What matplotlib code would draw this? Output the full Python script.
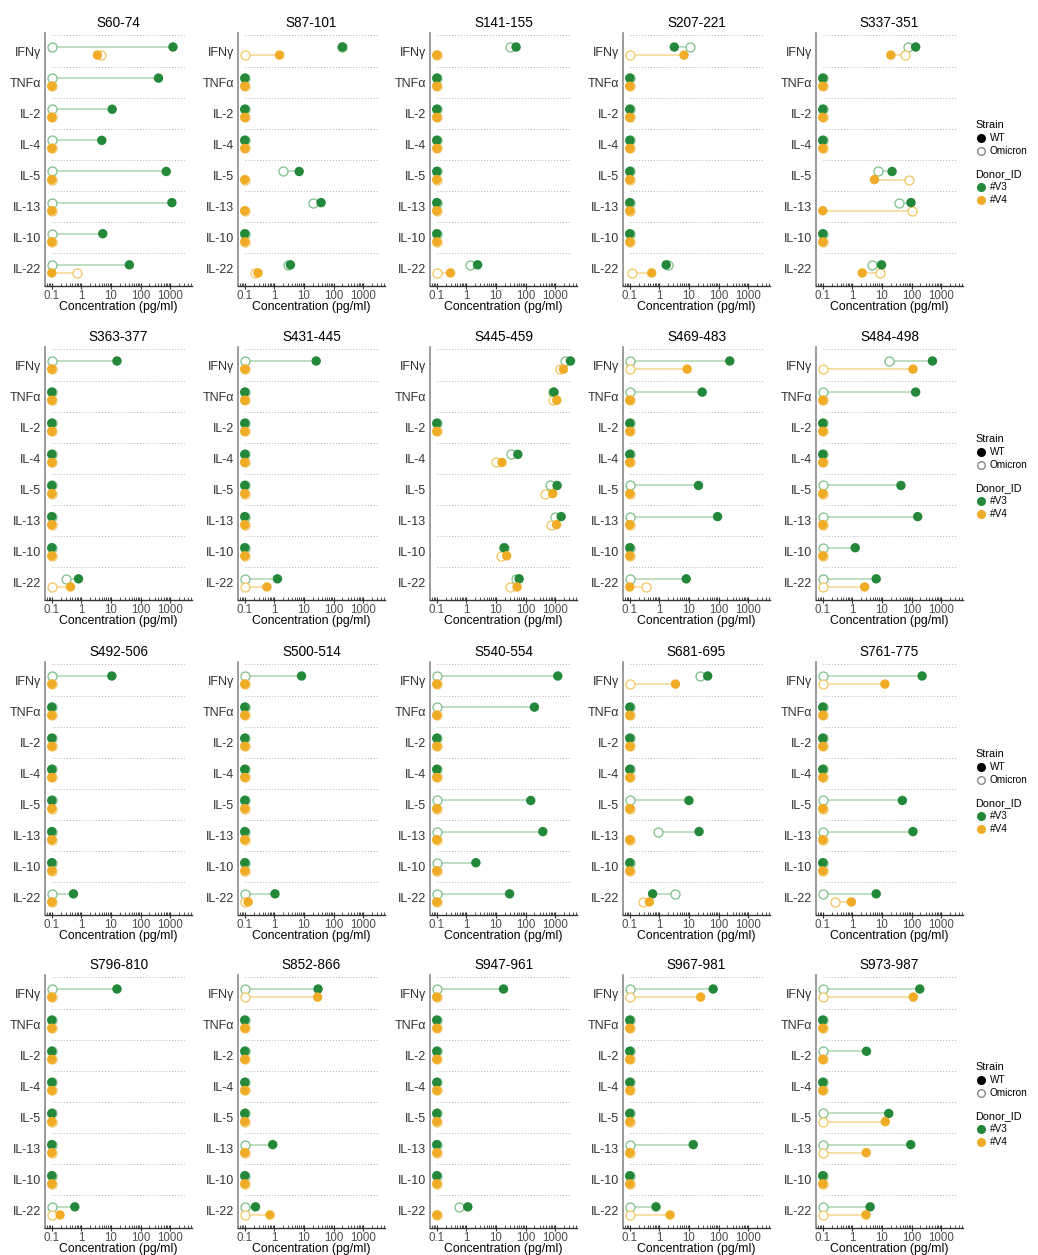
import matplotlib
matplotlib.use("Agg")
import matplotlib.pyplot as plt
import matplotlib.ticker as mticker
from matplotlib.lines import Line2D
import numpy as np

plt.rcParams['font.family'] = ['Liberation Sans', 'DejaVu Sans']

peptides = ["S60-74", "S87-101", "S141-155", "S207-221", "S337-351",
            "S363-377", "S431-445", "S445-459", "S469-483", "S484-498",
            "S492-506", "S500-514", "S540-554", "S681-695", "S761-775",
            "S796-810", "S852-866", "S947-961", "S967-981", "S973-987"]
cytokines = ["IFNγ", "TNFα", "IL-2", "IL-4", "IL-5", "IL-13", "IL-10", "IL-22"]
donors = ["#V3", "#V4"]
strains = ["WT", "Omicron"]

# values in pg/ml, order of cytokines
wt_v3 = [
    [1250, 405, 11, 4.9, 740, 1150, 5.3, 42],
    [200, 0.1, 0.1, 0.1, 6.9, 38, 0.1, 3.5],
    [48, 0.1, 0.1, 0.1, 0.1, 0.1, 0.1, 2.4],
    [3.2, 0.1, 0.1, 0.1, 0.1, 0.1, 0.1, 1.7],
    [138, 0.1, 0.1, 0.1, 22, 96, 0.1, 9.7],
    [16, 0.1, 0.1, 0.1, 0.1, 0.1, 0.1, 0.80],
    [26, 0.1, 0.1, 0.1, 0.1, 0.1, 0.1, 1.27],
    [3300, 910, 0.1, 55, 1170, 1600, 19, 61],
    [240, 28, 0.1, 0.1, 21, 93, 0.1, 8.1],
    [510, 138, 0.1, 0.1, 44, 162, 1.25, 6.4],
    [10.7, 0.1, 0.1, 0.1, 0.1, 0.1, 0.1, 0.54],
    [8.3, 0.1, 0.1, 0.1, 0.1, 0.1, 0.1, 1.05],
    [1230, 200, 0.1, 0.1, 150, 385, 2.1, 29],
    [43, 0.1, 0.1, 0.1, 10, 22, 0.1, 0.59],
    [228, 0.1, 0.1, 0.1, 49, 112, 0.1, 6.4],
    [16, 0.1, 0.1, 0.1, 0.1, 0.1, 0.1, 0.60],
    [30, 0.1, 0.1, 0.1, 0.1, 0.88, 0.1, 0.23],
    [18, 0.1, 0.1, 0.1, 0.1, 0.1, 0.1, 1.12],
    [66, 0.1, 0.1, 0.1, 0.1, 14, 0.1, 0.77],
    [190, 0.1, 3.0, 0.1, 17, 94, 0.1, 4.0],
]
omi_v3 = [
    [0.1, 0.1, 0.1, 0.1, 0.1, 0.1, 0.1, 0.1],
    [200, 0.1, 0.1, 0.1, 2.0, 21, 0.1, 2.8],
    [29, 0.1, 0.1, 0.1, 0.1, 0.1, 0.1, 1.38],
    [10.5, 0.1, 0.1, 0.1, 0.1, 0.1, 0.1, 2.0],
    [74, 0.1, 0.1, 0.1, 7.3, 37, 0.1, 4.5],
    [0.1, 0.1, 0.1, 0.1, 0.1, 0.1, 0.1, 0.31],
    [0.1, 0.1, 0.1, 0.1, 0.1, 0.1, 0.1, 0.1],
    [2240, 820, 0.1, 33, 650, 980, 19, 49],
    [0.1, 0.1, 0.1, 0.1, 0.1, 0.1, 0.1, 0.1],
    [17, 0.1, 0.1, 0.1, 0.1, 0.1, 0.1, 0.1],
    [0.1, 0.1, 0.1, 0.1, 0.1, 0.1, 0.1, 0.1],
    [0.1, 0.1, 0.1, 0.1, 0.1, 0.1, 0.1, 0.1],
    [0.1, 0.1, 0.1, 0.1, 0.1, 0.1, 0.1, 0.1],
    [24, 0.1, 0.1, 0.1, 0.1, 0.9, 0.1, 3.5],
    [0.1, 0.1, 0.1, 0.1, 0.1, 0.1, 0.1, 0.1],
    [0.1, 0.1, 0.1, 0.1, 0.1, 0.1, 0.1, 0.1],
    [0.1, 0.1, 0.1, 0.1, 0.1, 0.1, 0.1, 0.1],
    [0.1, 0.1, 0.1, 0.1, 0.1, 0.1, 0.1, 0.57],
    [0.1, 0.1, 0.1, 0.1, 0.1, 0.1, 0.1, 0.1],
    [0.1, 0.1, 0.1, 0.1, 0.1, 0.1, 0.1, 0.1],
]
wt_v4 = [
    [3.5, 0.1, 0.1, 0.1, 0.1, 0.1, 0.1, 0.1],
    [1.5, 0.1, 0.1, 0.1, 0.1, 0.1, 0.1, 0.28],
    [0.1, 0.1, 0.1, 0.1, 0.1, 0.1, 0.1, 0.29],
    [6.8, 0.1, 0.1, 0.1, 0.1, 0.1, 0.1, 0.55],
    [20, 0.1, 0.1, 0.1, 5.6, 0.1, 0.1, 2.15],
    [0.1, 0.1, 0.1, 0.1, 0.1, 0.1, 0.1, 0.43],
    [0.1, 0.1, 0.1, 0.1, 0.1, 0.1, 0.1, 0.56],
    [1920, 1140, 0.1, 16, 830, 1120, 23, 52],
    [8.7, 0.1, 0.1, 0.1, 0.1, 0.1, 0.1, 0.1],
    [112, 0.1, 0.1, 0.1, 0.1, 0.1, 0.1, 2.6],
    [0.1, 0.1, 0.1, 0.1, 0.1, 0.1, 0.1, 0.1],
    [0.1, 0.1, 0.1, 0.1, 0.1, 0.1, 0.1, 0.13],
    [0.1, 0.1, 0.1, 0.1, 0.1, 0.1, 0.1, 0.1],
    [3.5, 0.1, 0.1, 0.1, 0.1, 0.1, 0.1, 0.46],
    [12.6, 0.1, 0.1, 0.1, 0.1, 0.1, 0.1, 0.92],
    [0.1, 0.1, 0.1, 0.1, 0.1, 0.1, 0.1, 0.19],
    [29, 0.1, 0.1, 0.1, 0.1, 0.1, 0.1, 0.71],
    [0.1, 0.1, 0.1, 0.1, 0.1, 0.1, 0.1, 0.1],
    [25, 0.1, 0.1, 0.1, 0.1, 0.1, 0.1, 2.3],
    [115, 0.1, 0.1, 0.1, 13, 2.95, 0.1, 2.9],
]
omi_v4 = [
    [4.7, 0.1, 0.1, 0.1, 0.1, 0.1, 0.1, 0.74],
    [0.1, 0.1, 0.1, 0.1, 0.1, 0.1, 0.1, 0.23],
    [0.1, 0.1, 0.1, 0.1, 0.1, 0.1, 0.1, 0.1],
    [0.1, 0.1, 0.1, 0.1, 0.1, 0.1, 0.1, 0.115],
    [59, 0.1, 0.1, 0.1, 83, 107, 0.1, 8.6],
    [0.1, 0.1, 0.1, 0.1, 0.1, 0.1, 0.1, 0.1],
    [0.1, 0.1, 0.1, 0.1, 0.1, 0.1, 0.1, 0.1],
    [1480, 840, 0.1, 10.2, 450, 740, 14.6, 29],
    [0.1, 0.1, 0.1, 0.1, 0.1, 0.1, 0.1, 0.35],
    [0.1, 0.1, 0.1, 0.1, 0.1, 0.1, 0.1, 0.1],
    [0.1, 0.1, 0.1, 0.1, 0.1, 0.1, 0.1, 0.1],
    [0.1, 0.1, 0.1, 0.1, 0.1, 0.1, 0.1, 0.1],
    [0.1, 0.1, 0.1, 0.1, 0.1, 0.1, 0.1, 0.1],
    [0.1, 0.1, 0.1, 0.1, 0.1, 0.1, 0.1, 0.27],
    [0.1, 0.1, 0.1, 0.1, 0.1, 0.1, 0.1, 0.25],
    [0.1, 0.1, 0.1, 0.1, 0.1, 0.1, 0.1, 0.1],
    [0.1, 0.1, 0.1, 0.1, 0.1, 0.1, 0.1, 0.1],
    [0.1, 0.1, 0.1, 0.1, 0.1, 0.1, 0.1, 0.1],
    [0.1, 0.1, 0.1, 0.1, 0.1, 0.1, 0.1, 0.1],
    [0.1, 0.1, 0.1, 0.1, 0.1, 0.1, 0.1, 0.1],
]

donor_colors = {"#V3": "#24883a", "#V4": "#f0ac27"}
line_colors = {"#V3": "#b9dcbc", "#V4": "#f8dca0"}
open_edge = {"#V3": "#7dbf88", "#V4": "#f3c460"}

W, H = 1038, 1255
fig = plt.figure(figsize=(W / 100, H / 100), dpi=100)

col_left = [45, 238, 430, 623, 816]
row_top = [33, 347, 662, 975]
aw, ah = 147, 253

n_cyt = len(cytokines)
ypos = np.arange(n_cyt, 0, -1)  # IFNg at top
offs = {"#V3": 0.13, "#V4": -0.13}

all_vals = np.array(wt_v3 + omi_v3 + wt_v4 + omi_v4, dtype=float)
xmin_d, xmax_d = np.nanmin(all_vals), np.nanmax(all_vals)

series = {"#V3": (wt_v3, omi_v3), "#V4": (wt_v4, omi_v4)}

for i, pep in enumerate(peptides):
    r, c = divmod(i, 5)
    ax = fig.add_axes([col_left[c] / W, 1 - (row_top[r] + ah) / H, aw / W, ah / H])
    ax.set_xscale("log")
    ax.set_xlim(0.059, 5500)
    ax.set_ylim(0.45, 8.58)
    for yy in ypos:
        ax.plot([xmin_d, xmax_d], [yy + 0.5, yy + 0.5], ls=(0, (1, 2)),
                color="#b0b0b0", lw=0.7, zorder=1)
    for d in donors:
        wt, om = series[d]
        wv = np.array(wt[i], dtype=float)
        ov = np.array(om[i], dtype=float)
        y = ypos + offs[d]
        for k in range(n_cyt):
            ax.plot([wv[k], ov[k]], [y[k], y[k]], color=line_colors[d], lw=1.3,
                    zorder=2, solid_capstyle="butt")
        ax.scatter(ov, y, s=42, facecolors="white", edgecolors=open_edge[d],
                   linewidths=0.9, zorder=3)
        ax.scatter(wv, y, s=46, color=donor_colors[d], edgecolors="none", zorder=4)
    ax.set_yticks(ypos)
    ax.set_yticklabels(cytokines, fontsize=9, color="#333333")
    ax.tick_params(axis="y", length=0, pad=3)
    ax.set_xticks([0.1, 1, 10, 100, 1000])
    ax.xaxis.set_major_formatter(mticker.FixedFormatter(["0.1", "1", "10", "100", "1000"]))
    ax.xaxis.set_minor_locator(mticker.LogLocator(base=10, subs=np.arange(2, 10), numticks=20))
    ax.xaxis.set_minor_formatter(mticker.NullFormatter())
    ax.tick_params(axis="x", which="major", direction="inout", length=5, width=0.8,
                   labelsize=8.3, labelcolor="#4d4d4d", color="#333333", pad=0.5)
    ax.tick_params(axis="x", which="minor", direction="in", length=2.5, width=0.6,
                   color="#333333")
    for s in ["top", "right"]:
        ax.spines[s].set_visible(False)
    ax.spines["left"].set_color("#8a8a8a")
    ax.spines["left"].set_linewidth(1.2)
    ax.spines["bottom"].set_color("#333333")
    ax.spines["bottom"].set_linewidth(1.0)
    ax.set_title(pep, fontsize=9.8, pad=4.5)
    ax.set_xlabel("Concentration (pg/ml)", fontsize=8.8, labelpad=-0.5)

# legends, one per row
for r in range(4):
    top_frac = 1 - (row_top[r] + 80) / H
    h1 = [Line2D([], [], marker="o", ls="", color="black", markersize=5.5),
          Line2D([], [], marker="o", ls="", markerfacecolor="white",
                 markeredgecolor="#888888", markersize=5.5)]
    fig.legend(h1, strains, title="Strain", loc="upper left",
               bbox_to_anchor=(968 / W, top_frac), frameon=False,
               fontsize=7.2, title_fontsize=7.8, alignment="left",
               handletextpad=0.3, handlelength=1.2, labelspacing=0.3,
               borderpad=0.2)
    h2 = [Line2D([], [], marker="o", ls="", color=donor_colors[d], markersize=5.5)
          for d in donors]
    fig.legend(h2, donors, title="Donor_ID", loc="upper left",
               bbox_to_anchor=(968 / W, top_frac - 49 / H), frameon=False,
               fontsize=7.2, title_fontsize=7.8, alignment="left",
               handletextpad=0.3, handlelength=1.2, labelspacing=0.3,
               borderpad=0.2)

fig.savefig("out.png", dpi=100, facecolor="white")
